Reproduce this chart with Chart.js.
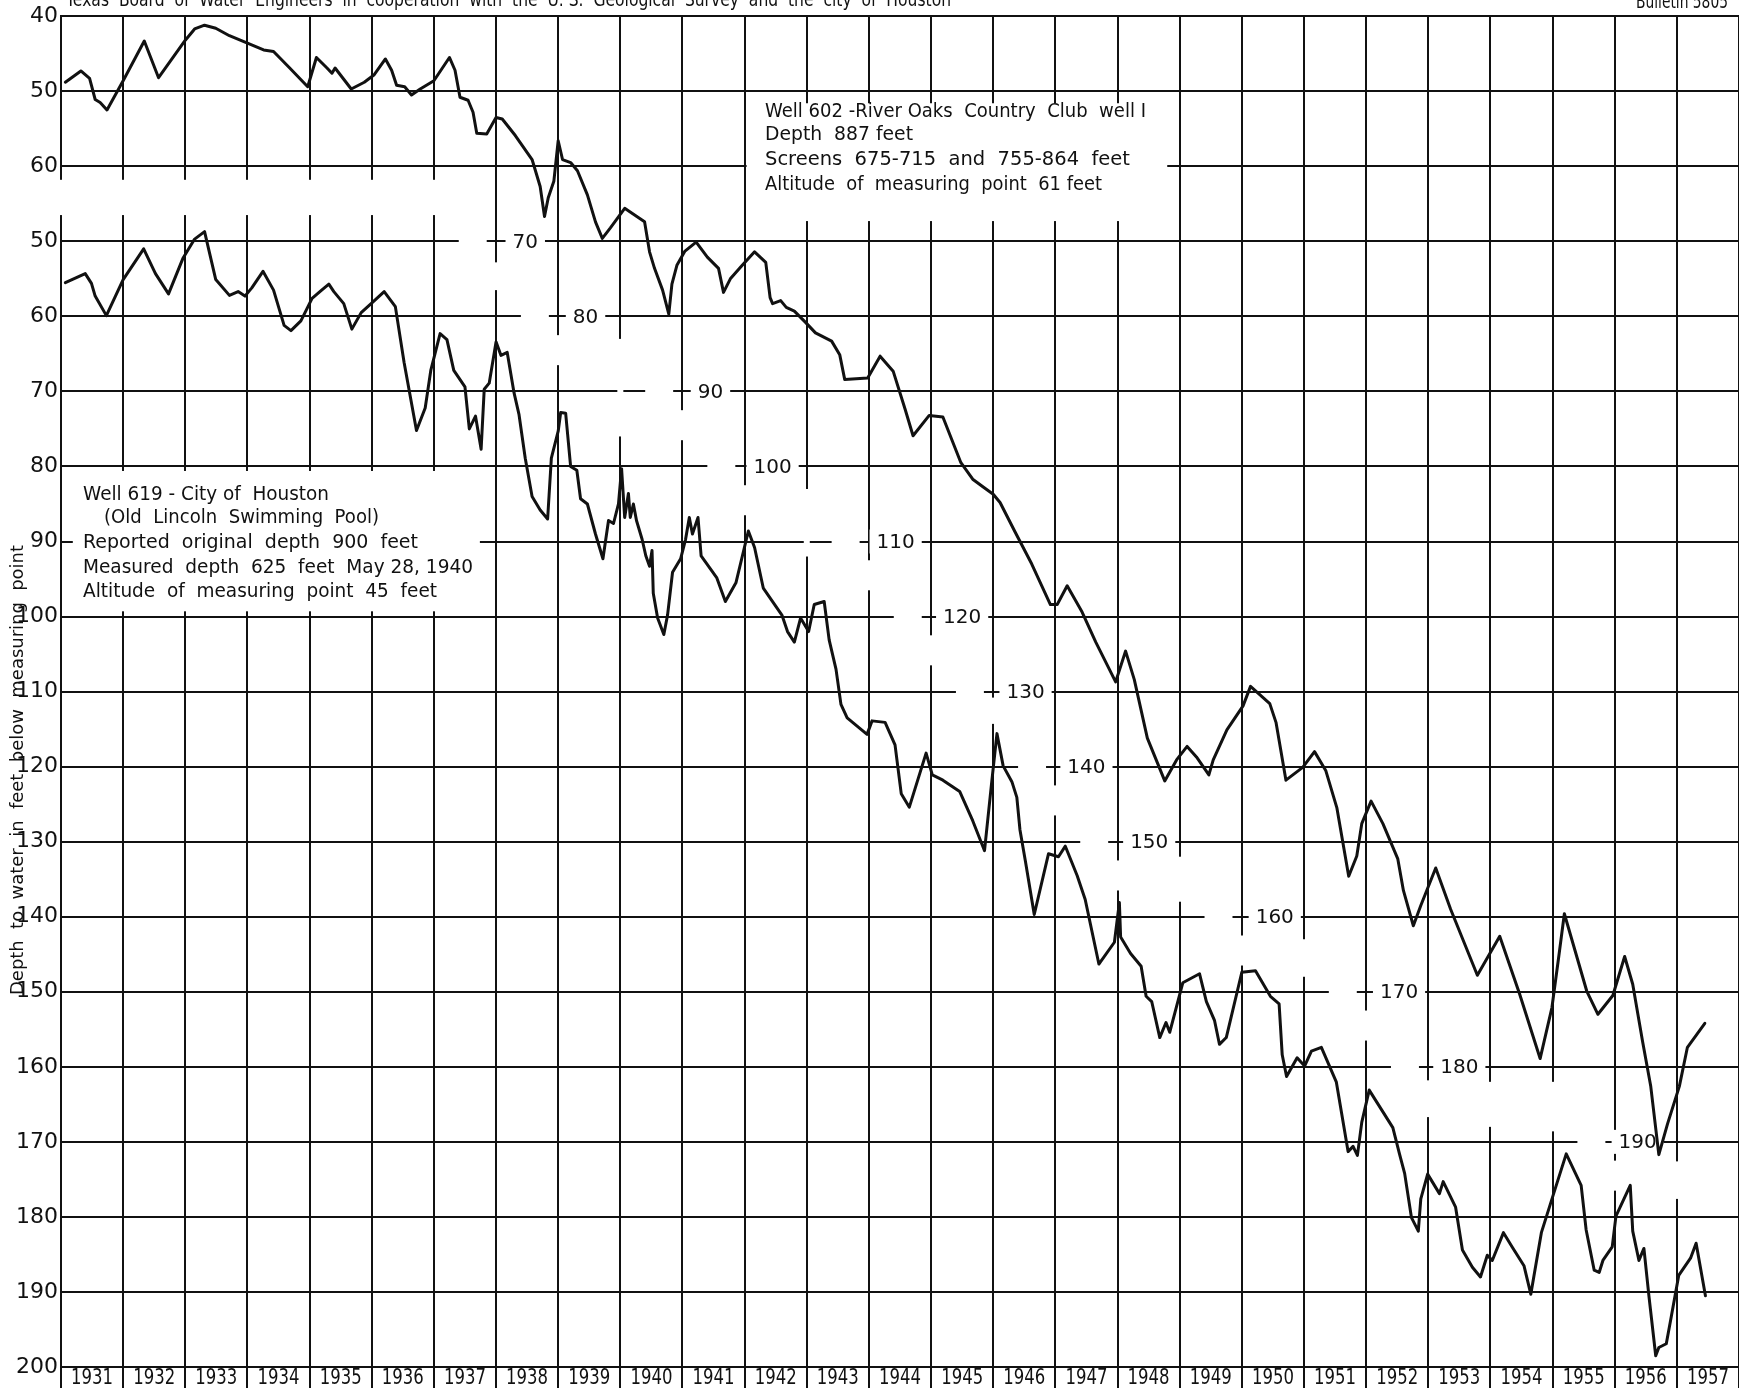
<!DOCTYPE html>
<html lang="en">
<head>
<meta charset="UTF-8">
<title>Hydrographs of wells 602 and 619, Houston, 1931-1957</title>
<script src="https://cdn.jsdelivr.net/npm/chart.js@4.4.0/dist/chart.umd.min.js"></script>
<style>
  html, body { margin: 0; padding: 0; background: #fff; }
  #wrap { width: 1739px; height: 1388px; position: relative; }
</style>
</head>
<body>
<div id="wrap"><canvas id="chart"></canvas></div>
<script>
// ---- data (decimal year, depth to water in feet) ----
var w602Dates = [1931.07,1931.32,1931.46,1931.55,1931.63,1931.74,1932.00,1932.34,1932.57,1933.00,1933.15,1933.31,1933.49,1933.71,1934.00,1934.26,1934.42,1934.68,1934.97,1935.11,1935.28,1935.36,1935.41,1935.67,1935.88,1936.04,1936.22,1936.32,1936.40,1936.53,1936.64,1936.78,1937.00,1937.25,1937.34,1937.42,1937.55,1937.63,1937.69,1937.85,1938.00,1938.10,1938.31,1938.58,1938.71,1938.78,1938.84,1938.93,1939.00,1939.07,1939.20,1939.31,1939.47,1939.60,1939.71,1939.84,1940.07,1940.39,1940.47,1940.55,1940.68,1940.78,1940.83,1940.91,1941.04,1941.22,1941.40,1941.58,1941.66,1941.77,1941.94,1942.16,1942.34,1942.41,1942.45,1942.58,1942.67,1942.80,1942.98,1943.14,1943.40,1943.53,1943.61,1943.98,1944.18,1944.39,1944.58,1944.71,1944.97,1945.19,1945.48,1945.67,1945.85,1946.00,1946.11,1946.35,1946.62,1946.92,1947.03,1947.19,1947.43,1947.65,1947.97,1948.13,1948.27,1948.48,1948.76,1948.95,1949.12,1949.27,1949.47,1949.54,1949.76,1950.02,1950.14,1950.45,1950.55,1950.71,1950.98,1951.17,1951.35,1951.53,1951.72,1951.85,1951.93,1952.08,1952.27,1952.51,1952.60,1952.76,1952.88,1953.12,1953.36,1953.79,1954.15,1954.47,1954.80,1954.99,1955.10,1955.19,1955.55,1955.73,1955.97,1956.16,1956.29,1956.45,1956.58,1956.71,1956.85,1957.04,1957.17,1957.45];
var w602Depth = [48.8,47.3,48.3,51.1,51.5,52.5,48.6,43.3,48.2,43.2,41.7,41.2,41.6,42.6,43.6,44.5,44.7,46.9,49.4,45.5,46.9,47.6,46.9,49.7,48.8,47.8,45.7,47.2,49.2,49.4,50.5,49.7,48.6,45.5,47.2,50.8,51.2,52.8,55.6,55.7,53.5,53.7,55.9,59.1,62.7,66.7,64.2,62.0,56.6,59.1,59.5,60.6,63.8,67.4,69.6,68.2,65.6,67.4,71.4,73.6,76.5,79.7,75.7,73.2,71.3,70.1,72.1,73.6,76.8,75.0,73.4,71.4,72.8,77.5,78.3,77.9,78.8,79.3,80.8,82.2,83.3,85.1,88.4,88.2,85.3,87.3,92.3,95.9,93.2,93.4,99.5,101.7,102.8,103.7,104.8,108.7,113.0,118.4,118.4,115.9,119.4,123.4,128.7,124.6,128.4,136.2,141.9,139.1,137.3,138.7,141.1,139.1,135.1,131.9,129.3,131.6,134.1,141.8,140.1,138.0,140.5,145.5,154.6,151.9,147.6,144.6,147.6,152.3,156.5,161.2,158.5,153.5,159.0,167.8,162.6,170.3,178.9,172.1,165.3,159.6,169.9,173.0,170.5,165.3,169.0,176.7,182.6,191.7,187.6,182.6,177.4,174.2];

var w619Dates = [1931.07,1931.39,1931.49,1931.55,1931.73,1932.00,1932.33,1932.52,1932.73,1932.96,1933.15,1933.31,1933.49,1933.71,1933.85,1933.96,1934.07,1934.25,1934.42,1934.59,1934.70,1934.86,1935.04,1935.18,1935.31,1935.39,1935.55,1935.68,1935.83,1935.99,1936.20,1936.38,1936.52,1936.72,1936.86,1936.95,1937.10,1937.21,1937.32,1937.50,1937.57,1937.67,1937.76,1937.81,1937.89,1938.00,1938.08,1938.18,1938.29,1938.37,1938.47,1938.58,1938.71,1938.83,1938.89,1939.00,1939.04,1939.12,1939.20,1939.30,1939.36,1939.47,1939.60,1939.72,1939.81,1939.89,1939.97,1940.02,1940.07,1940.13,1940.16,1940.21,1940.26,1940.35,1940.41,1940.47,1940.51,1940.53,1940.60,1940.70,1940.76,1940.84,1940.97,1941.05,1941.11,1941.16,1941.25,1941.30,1941.55,1941.69,1941.86,1942.06,1942.16,1942.30,1942.60,1942.69,1942.80,1942.90,1943.03,1943.12,1943.28,1943.36,1943.47,1943.55,1943.65,1943.97,1944.05,1944.26,1944.42,1944.52,1944.65,1944.92,1945.02,1945.19,1945.46,1945.67,1945.86,1945.97,1946.06,1946.16,1946.30,1946.38,1946.43,1946.52,1946.66,1946.89,1947.05,1947.16,1947.35,1947.48,1947.70,1947.95,1948.03,1948.05,1948.21,1948.38,1948.46,1948.55,1948.68,1948.78,1948.84,1949.05,1949.32,1949.43,1949.56,1949.64,1949.75,1950.00,1950.22,1950.46,1950.60,1950.65,1950.72,1950.89,1951.01,1951.12,1951.28,1951.52,1951.71,1951.79,1951.86,1951.93,1952.05,1952.24,1952.43,1952.54,1952.62,1952.73,1952.84,1952.88,1952.99,1953.18,1953.24,1953.44,1953.55,1953.71,1953.84,1953.95,1954.03,1954.21,1954.35,1954.54,1954.65,1954.82,1955.01,1955.22,1955.46,1955.54,1955.67,1955.75,1955.81,1955.96,1956.02,1956.25,1956.29,1956.39,1956.47,1956.55,1956.66,1956.71,1956.83,1956.91,1957.03,1957.22,1957.31,1957.46];
var w619Depth = [55.5,54.3,55.6,57.3,59.9,55.1,51.0,54.3,57.0,52.3,49.7,48.7,55.1,57.2,56.7,57.3,56.2,54.0,56.5,61.2,61.9,60.6,57.6,56.6,55.7,56.7,58.3,61.7,59.5,58.3,56.7,58.7,66.1,75.2,72.2,67.2,62.3,63.1,67.2,69.4,75.0,73.3,77.7,69.7,68.9,63.4,65.2,64.8,70.2,73.1,78.9,84.0,85.8,87.0,78.9,75.3,72.8,72.9,80.0,80.5,84.3,85.0,89.0,92.3,87.2,87.6,85.0,80.3,86.8,83.6,86.8,85.0,87.2,89.7,91.9,93.3,91.2,96.9,100.2,102.4,99.8,94.1,92.3,89.7,86.8,89.0,86.8,91.9,94.8,98.0,95.5,88.6,90.8,96.2,99.8,102.0,103.4,100.2,102.0,98.4,98.0,103.1,107.0,111.7,113.5,115.7,113.9,114.1,117.1,123.6,125.4,118.2,121.1,121.8,123.3,127.2,131.2,122.5,115.6,119.9,122.0,124.1,128.4,132.7,139.7,131.6,132.0,130.6,134.5,137.7,146.3,143.4,138.1,142.7,144.9,146.6,150.6,151.3,156.1,154.1,155.4,148.8,147.6,151.3,153.8,157.0,156.1,147.4,147.2,150.6,151.6,158.4,161.3,158.8,159.9,157.9,157.4,162.0,171.3,170.6,171.8,167.4,163.1,165.6,168.1,171.7,174.2,180.1,181.9,177.6,174.3,176.9,175.3,178.7,184.4,186.7,188.0,185.1,185.8,182.1,184.0,186.5,190.3,182.1,177.1,171.6,175.8,181.7,187.1,187.4,185.8,184.0,179.9,175.8,181.9,185.8,184.2,190.5,198.5,197.4,196.9,193.3,187.8,185.5,183.5,190.5];

// ---- axis labels ----
var yearLabels = ['1931','1932','1933','1934','1935','1936','1937','1938','1939','1940','1941','1942','1943','1944','1945','1946','1947','1948','1949','1950','1951','1952','1953','1954','1955','1956','1957'];
// left scale: top three lines belong to well 602, the rest to well 619
var yTickValues = [20,30,40,50,60,70,80,90,100,110,120,130,140,150,160,170,180,190,200];
var yTickLabels = ['40','50','60','50','60','70','80','90','100','110','120','130','140','150','160','170','180','190','200'];
// well 602 depths written along the grid, and the year where each one sits
var w602LevelLabels = ['70','80','90','100','110','120','130','140','150','160','170','180','190'];
var w602LevelValues = [70,80,90,100,110,120,130,140,150,160,170,180,190];
var w602LevelYears = [1938,1939,1941,1942,1944,1945,1946,1947,1948,1950,1952,1953,1956];
var w602LevelTextAt = [1938.47,1939.44,1941.45,1942.45,1944.43,1945.5,1946.52,1947.5,1948.51,1950.53,1952.53,1953.5,1956.37];

var note602 = ['Well 602 -River Oaks  Country  Club  well I', 'Depth  887 feet', 'Screens  675-715  and  755-864  feet', 'Altitude  of  measuring  point  61 feet'];
var note619 = ['Well 619 - City of  Houston', '(Old  Lincoln  Swimming  Pool)', 'Reported  original  depth  900  feet', 'Measured  depth  625  feet  May 28, 1940', 'Altitude  of  measuring  point  45  feet'];
var yTitle = 'Depth  to  water  in  feet  below  measuring  point';
var headerText = 'Texas  Board  of  Water  Engineers  in  cooperation  with  the  U. S.  Geological  Survey  and  the  city  of  Houston';
var bulletinText = 'Bulletin 5805';

// breaks in the year lines where the two grids meet [year, from, to] (left-scale units)
var yearLineBreaks = [
  [1931,41.8,46.5],[1932,41.8,46.5],[1933,41.8,46.5],[1934,41.8,46.5],[1935,41.8,46.5],[1936,41.8,46.5],[1937,41.8,46.5],
  [1938,52.8,56.5],[1939,62.5,66.5],[1940,63,76],[1941,72.5,76.5],[1942,82.5,86.5],[1943,83,92],[1944,92.5,96.5],
  [1945,102.5,106.5],[1946,110.8,114.3],[1947,122.5,126.5],[1948,132.5,136.5],[1949,132,138],[1950,142.5,146.5],
  [1951,143,148],[1952,152.5,156.5],[1953,161.8,166.7],[1954,162,168],[1955,162,168.6],[1956,172.5,176.5],[1957,172.6,177.6]
];

var INK = '#111';
var LETTER = '"DejaVu Sans", sans-serif';

function toPoints(xs, ys) {
  return xs.map(function (d, i) { return { x: d, y: ys[i] }; });
}

// draw text squeezed/stretched to a given width
function fitText(ctx, txt, x, y, w) {
  var m = ctx.measureText(txt).width;
  ctx.save();
  ctx.translate(x, y);
  ctx.scale(w / m, 1);
  ctx.fillText(txt, 0, 0);
  ctx.restore();
}

var sheetPlugin = {
  id: 'sheet',
  beforeDatasetsDraw: function (chart) {
    var ctx = chart.ctx;
    var xs = chart.scales.x, ys = chart.scales.y, y2 = chart.scales.y602;
    var X = function (v) { return xs.getPixelForValue(v); };
    var Y = function (v) { return ys.getPixelForValue(v); };

    ctx.save();
    ctx.fillStyle = '#fff';

    // blank panels for the two well descriptions
    ctx.fillRect(X(1942) + 2, Y(31.6), X(1948.8) - X(1942) - 2, Y(47.3) - Y(31.6));
    ctx.fillRect(X(1931.19), Y(80.6), X(1937.74) - X(1931.19), Y(99.3) - Y(80.6));

    // breaks in the vertical lines
    yearLineBreaks.forEach(function (b) {
      ctx.fillRect(X(b[0]) - 3, Y(b[1]), 6, Y(b[2]) - Y(b[1]));
    });

    // breaks in the horizontal lines beside each well 602 level label
    ctx.font = '20px ' + LETTER;
    w602LevelLabels.forEach(function (t, i) {
      var yy = y2.getPixelForValue(w602LevelValues[i]);
      var yr = w602LevelYears[i];
      ctx.fillRect(X(yr - 0.6), yy - 3, X(yr - 0.15) - X(yr - 0.6), 6);
      var tw = ctx.measureText(t).width;
      var cx = X(w602LevelTextAt[i]);
      ctx.fillRect(cx - tw / 2 - 7, yy - 12, tw + 14, 24);
    });

    ctx.fillStyle = INK;
    ctx.textBaseline = 'middle';
    ctx.textAlign = 'center';
    w602LevelLabels.forEach(function (t, i) {
      ctx.fillText(t, X(w602LevelTextAt[i]), y2.getPixelForValue(w602LevelValues[i]) + 1);
    });

    // well descriptions
    ctx.textAlign = 'left';
    ctx.font = '19px ' + LETTER;
    var w602Widths = [381, 148, 365, 337];
    var w602Rows = [112, 135, 160, 185];
    note602.forEach(function (t, i) { fitText(ctx, t, 765, w602Rows[i], w602Widths[i]); });

    var w619Widths = [246, 275, 335, 390, 354];
    var w619Rows = [495, 518, 543, 568, 592];
    var w619Left = [83, 104, 83, 83, 83];
    note619.forEach(function (t, i) { fitText(ctx, t, w619Left[i], w619Rows[i], w619Widths[i]); });

    // axis title
    ctx.save();
    ctx.translate(19, 770);
    ctx.rotate(-Math.PI / 2);
    ctx.font = '17px ' + LETTER;
    fitText(ctx, yTitle, -225, 0, 450);
    ctx.restore();

    // year labels in the strip under the grid
    ctx.font = '22px ' + LETTER;
    yearLabels.forEach(function (t, i) {
      var cx = X(1931.5 + i);
      fitText(ctx, t, cx - 21, 1378, 42);
    });

    // header, cut by the top of the sheet
    ctx.font = '20px ' + LETTER;
    ctx.textBaseline = 'alphabetic';
    fitText(ctx, headerText, 66, 6, 885);
    fitText(ctx, bulletinText, 1636, 8, 92);
    ctx.restore();
  }
};

new Chart(document.getElementById('chart'), {
  type: 'line',
  data: {
    datasets: [
      { label: 'Well 602', data: toPoints(w602Dates, w602Depth), yAxisID: 'y602' },
      { label: 'Well 619', data: toPoints(w619Dates, w619Depth), yAxisID: 'y' }
    ]
  },
  options: {
    responsive: true,
    maintainAspectRatio: false,
    animation: false,
    layout: { padding: { top: 12, left: 0, right: 0, bottom: 0 } },
    plugins: { legend: { display: false }, tooltip: { enabled: false } },
    elements: {
      point: { radius: 0 },
      line: { borderColor: INK, borderWidth: 3, tension: 0, borderJoinStyle: 'round', borderCapStyle: 'round' }
    },
    scales: {
      x: {
        type: 'linear', min: 1931, max: 1958,
        ticks: { stepSize: 1, display: false, autoSkip: false },
        grid: { color: INK, lineWidth: 2, drawTicks: true, tickLength: 21, tickColor: INK },
        border: { color: INK, width: 2 },
        afterFit: function (s) { s.height = 21; }
      },
      y: {
        type: 'linear', reverse: true, min: 20, max: 200,
        ticks: {
          stepSize: 10, autoSkip: false, padding: 3, color: INK,
          font: { family: 'DejaVu Sans', size: 22 },
          callback: function (v) { return yTickLabels[yTickValues.indexOf(v)]; }
        },
        grid: { color: INK, lineWidth: 2, drawTicks: false },
        border: { color: INK, width: 2 },
        afterFit: function (s) { s.width = 61; }
      },
      y602: { type: 'linear', reverse: true, min: 40, max: 220, display: false }
    }
  },
  plugins: [sheetPlugin]
});
</script>
</body>
</html>
